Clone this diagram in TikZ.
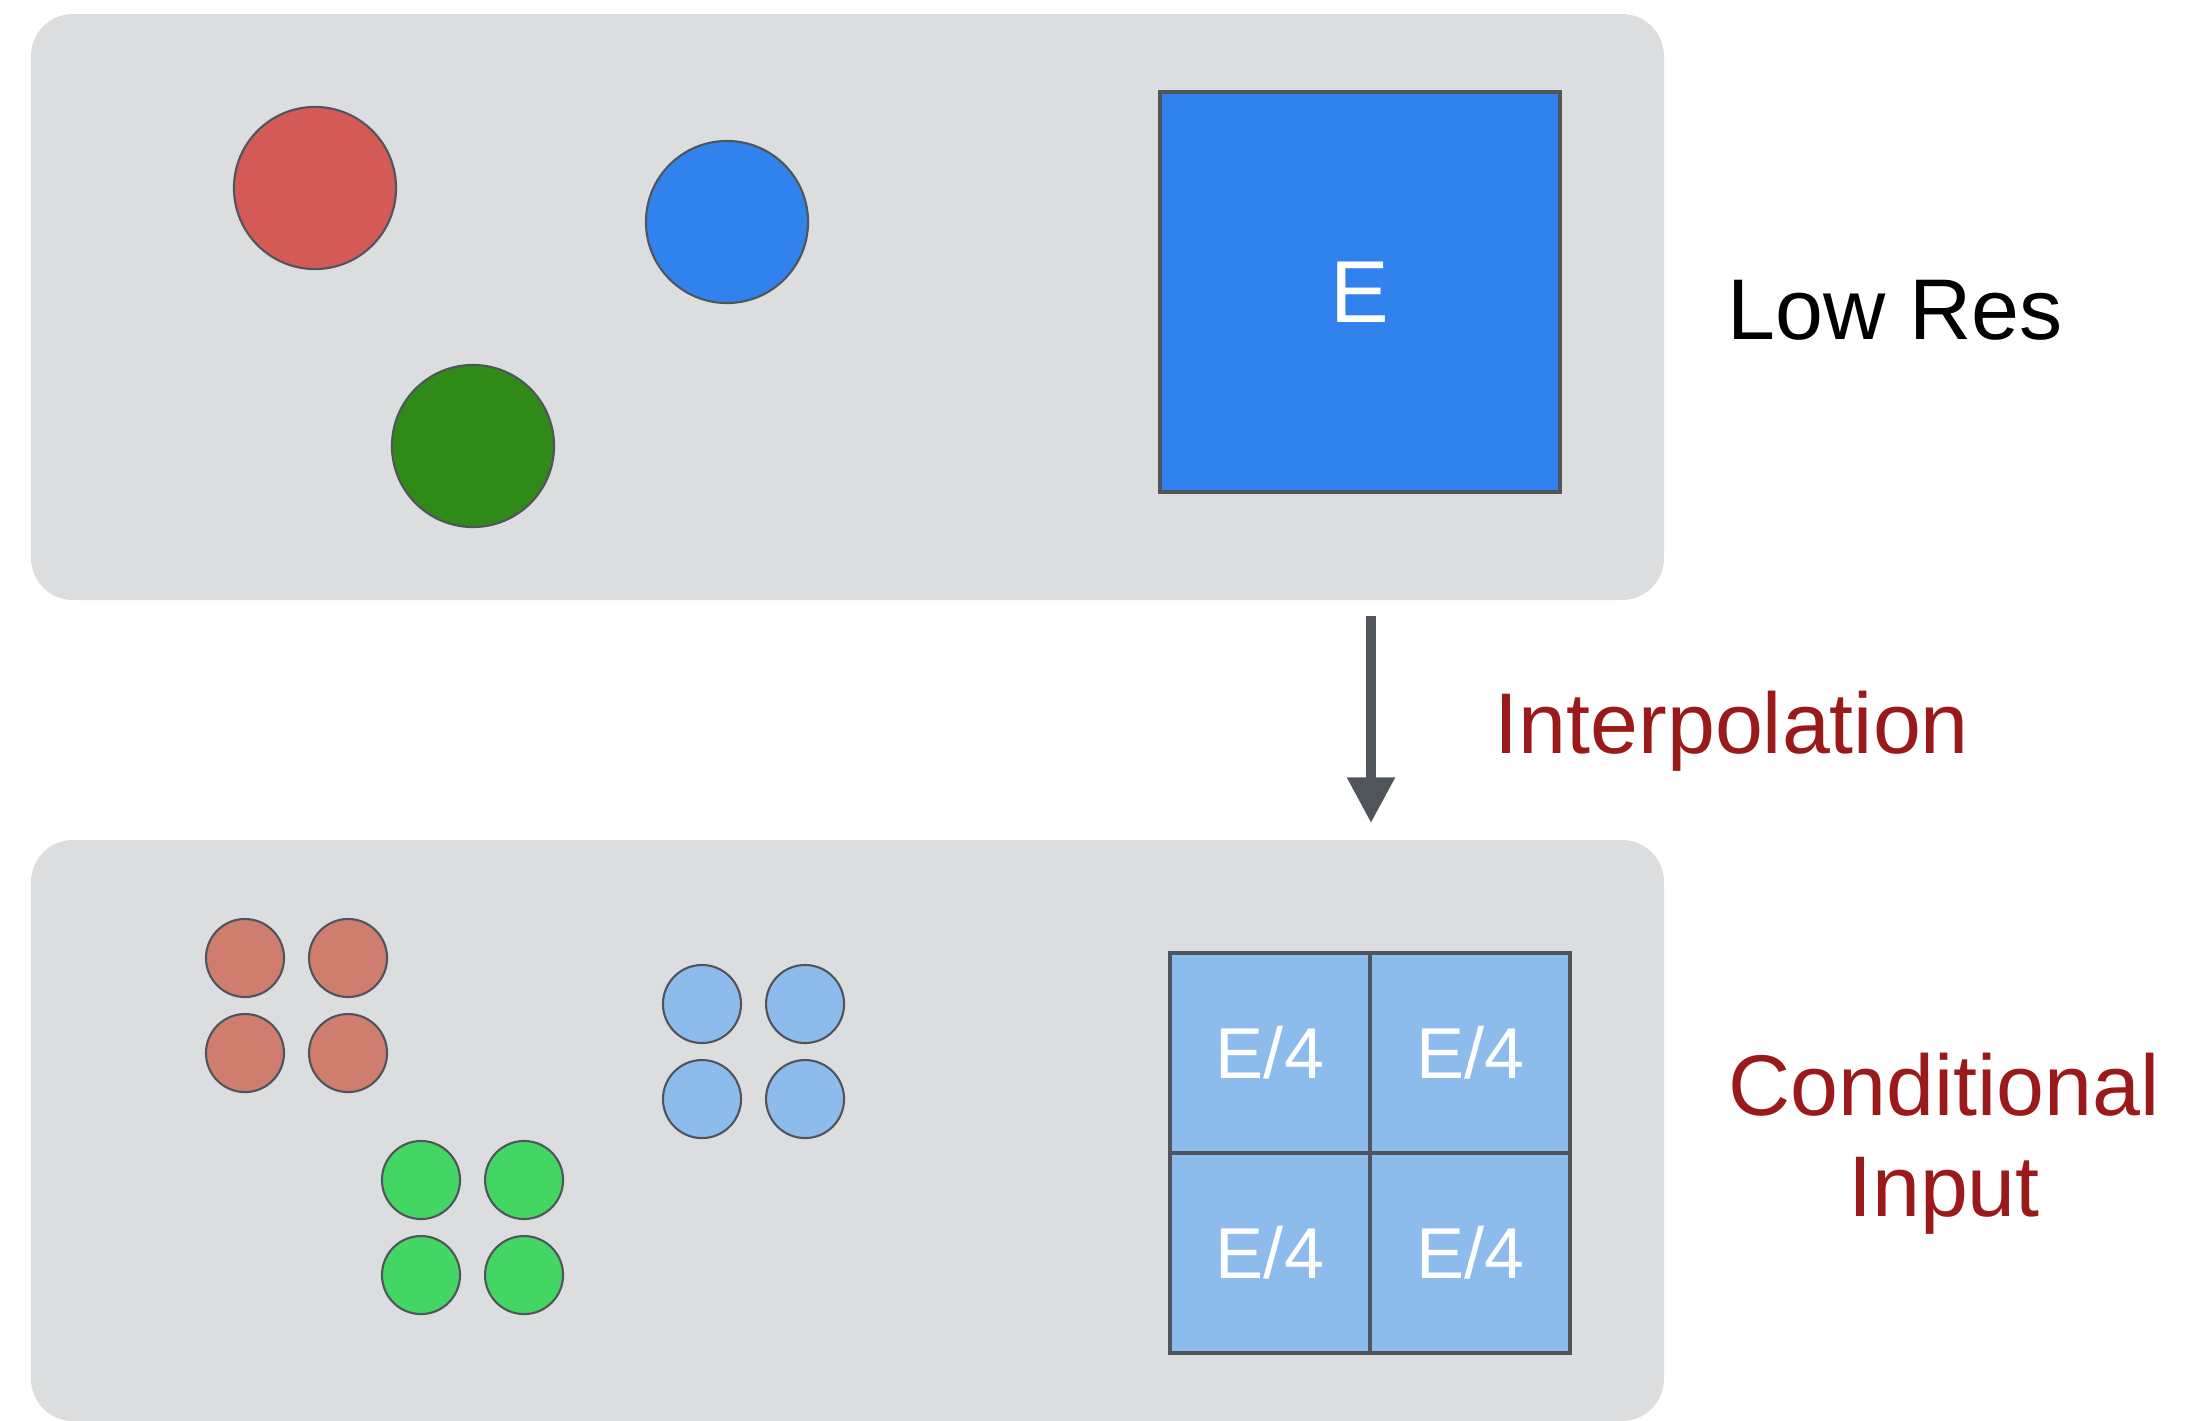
\documentclass[tikz,border=0pt]{standalone}
\usepackage{fontspec}
\setmainfont{Liberation Sans}
\usepackage{xcolor}
\usepackage{tikz}
\usetikzlibrary{positioning}
\usetikzlibrary{arrows.meta}

\definecolor{panelgray}{HTML}{DCDDDF}
\definecolor{edgegray}{HTML}{50555C}
\definecolor{bigred}{HTML}{D35A56}
\definecolor{bigblue}{HTML}{3282EE}
\definecolor{biggreen}{HTML}{308A18}
\definecolor{smallred}{HTML}{CF7D6F}
\definecolor{smallblue}{HTML}{8DBBEC}
\definecolor{smallgreen}{HTML}{44D663}
\definecolor{labelred}{HTML}{9A1A1A}

\begin{document}
\begin{tikzpicture}[
x=0.01cm, y=-0.01cm,
panel/.style={fill=panelgray, rounded corners=0.42cm},
bigdot/.style={circle, draw=edgegray, line width=0.6pt, minimum size=1.62cm, inner sep=0pt},
smalldot/.style={circle, draw=edgegray, line width=0.6pt, minimum size=0.78cm, inner sep=0pt, outer sep=0pt},
energybox/.style={rectangle, draw=edgegray, fill=bigblue, line width=1.1pt, minimum size=4cm, inner sep=0pt, text=white, font=\fontsize{25}{30}\selectfont},
cellbox/.style={rectangle, draw=edgegray, fill=smallblue, line width=1.1pt, minimum size=2cm, inner sep=0pt, outer sep=0pt, text=white, font=\fontsize{20.5}{24}\selectfont},
sidelabel/.style={font=\fontsize{24.5}{28.5}\selectfont, inner sep=0pt, align=center},
]
\useasboundingbox (0,0) rectangle (2187,1421);

%Panels
\fill[panel] (31,14) rectangle (1664,600);
\fill[panel] (31,840) rectangle (1664,1421);

%Low res nodes
\node[bigdot, fill=bigred]		(red)		at (315,188)	{};
\node[bigdot, fill=bigblue]		(blue)		at (727,222)	{};
\node[bigdot, fill=biggreen]	(green)		at (473,446)	{};
\node[energybox]				(energy)	at (1360,292)	{E};

%Interpolated nodes
\node[smalldot, fill=smallred]		(red1)		at (245,958)		{};
\node[smalldot, fill=smallred]		(red2)		[right=0.25cm of red1]	{};
\node[smalldot, fill=smallred]		(red3)		[below=0.17cm of red1]	{};
\node[smalldot, fill=smallred]		(red4)		[below=0.17cm of red2]	{};
\node[smalldot, fill=smallblue]		(blue1)		at (702,1004)		{};
\node[smalldot, fill=smallblue]		(blue2)		[right=0.25cm of blue1]	{};
\node[smalldot, fill=smallblue]		(blue3)		[below=0.17cm of blue1]	{};
\node[smalldot, fill=smallblue]		(blue4)		[below=0.17cm of blue2]	{};
\node[smalldot, fill=smallgreen]	(green1)	at (421,1180)		{};
\node[smalldot, fill=smallgreen]	(green2)	[right=0.25cm of green1]	{};
\node[smalldot, fill=smallgreen]	(green3)	[below=0.17cm of green1]	{};
\node[smalldot, fill=smallgreen]	(green4)	[below=0.17cm of green2]	{};

\node[cellbox]	(cell1)	at (1270,1053)			{E/4};
\node[cellbox]	(cell2)	[right=0pt of cell1]	{E/4};
\node[cellbox]	(cell3)	[below=0pt of cell1]	{E/4};
\node[cellbox]	(cell4)	[below=0pt of cell2]	{E/4};

%Labels
\node[sidelabel, anchor=base west]				(lowres)	at (1727,339)	{Low Res};
\node[sidelabel, anchor=base west, text=labelred]	(interp)	at (1494,753)	{Interpolation};
\node[sidelabel, anchor=base, text=labelred]		(condin)	at (1944,1216)	{Conditional\\Input};

%Arrow
\coordinate (arrowtop) at (1371,616);
\coordinate (arrowtip) at (1371,823);
\draw[edgegray, line width=2.8pt, -{Triangle[length=13pt, width=13pt]}] (arrowtop) -- (arrowtip);
\end{tikzpicture}
\end{document}
